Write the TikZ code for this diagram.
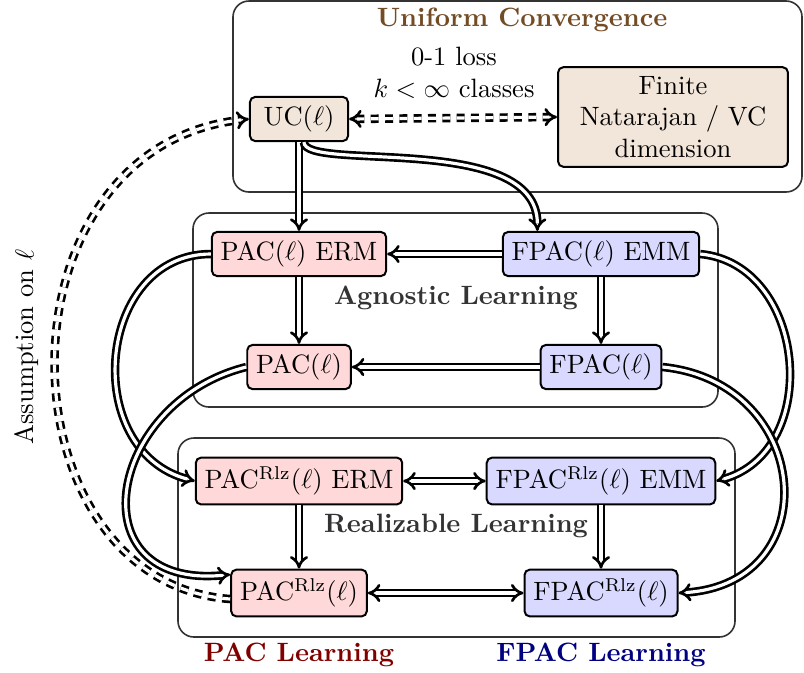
\documentclass[tikz,border=0pt]{standalone}
\usetikzlibrary{arrows.meta}
\begin{document}
\begin{tikzpicture}[x=0.377pt,y=-0.377pt,
  nbox/.style={draw, line width=0.75pt, rounded corners=2pt, inner sep=3.33pt},
  pacn/.style={nbox, fill=red!15},
  fpacn/.style={nbox, fill=blue!15},
  ucn/.style={nbox, fill=brown!20},
  cont/.style={draw=black!80, line width=0.6pt, rounded corners=6pt},
  imp/.style={double, double distance=1.2pt, line width=1pt, -{Implies}},
  impboth/.style={imp, {Implies}-{Implies}},
  dsh/.style={dash pattern=on 3pt off 2.4pt},
  ttl/.style={font=\bfseries, text=black!80},
]
\useasboundingbox (0,0) rectangle (804,672);
\draw[cont] (233,1) rectangle (802,192);
\draw[cont] (193,213) rectangle (718,407);
\draw[cont] (178,438) rectangle (735,637);

\node[font=\bfseries, text=brown!60!black] (uctitle) at (522,20) {Uniform Convergence};
\node[ttl] (agtitle) at (456,298) {Agnostic Learning};
\node[ttl] (rltitle) at (456,526) {Realizable Learning};
\node[font=\bfseries, text=red!50!black] (paclab) at (299,655) {PAC Learning};
\node[font=\bfseries, text=blue!50!black] (fpaclab) at (601,655) {FPAC Learning};
\node[rotate=90] (assume) at (27,347) {Assumption on $\ell$};
\node[align=center] (cond) at (454,73) {0-1 loss\\$k<\infty$ classes};

\node[ucn, minimum width=37pt] (uc) at (299,119) {UC$(\ell)$};
\node[ucn, text width=80pt, align=center] (finite) at (673,117) {Finite\\Natarajan / VC\\dimension};

\node[pacn] (pacerm) at (299,254) {PAC$(\ell)$ ERM};
\node[fpacn] (fpacemm) at (601,254) {FPAC$(\ell)$ EMM};
\node[pacn] (pac) at (299,367) {PAC$(\ell)$};
\node[fpacn] (fpac) at (601,367) {FPAC$(\ell)$};
\node[pacn] (pacrlzerm) at (299,481) {PAC$^{\mathrm{Rlz}}(\ell)$ ERM};
\node[fpacn] (fpacrlzemm) at (601,481) {FPAC$^{\mathrm{Rlz}}(\ell)$ EMM};
\node[pacn] (pacrlz) at (299,593) {PAC$^{\mathrm{Rlz}}(\ell)$};
\node[fpacn] (fpacrlz) at (601,593) {FPAC$^{\mathrm{Rlz}}(\ell)$};

\draw[imp] (uc.south) -- (pacerm.north);
\draw[imp] (uc.-78) .. controls +(0,30) and +(0,-100) .. ([xshift=-24pt]fpacemm.north);
\draw[imp] (fpacemm.west) -- (pacerm.east);
\draw[imp] (pacerm.south) -- (pac.north);
\draw[imp] (fpacemm.south) -- (fpac.north);
\draw[imp] (fpac.west) -- (pac.east);
\draw[impboth] (pacrlzerm.east) -- (fpacrlzemm.west);
\draw[imp] (pacrlzerm.south) -- (pacrlz.north);
\draw[imp] (fpacrlzemm.south) -- (fpacrlz.north);
\draw[impboth] (pacrlz.east) -- (fpacrlz.west);
\draw[imp] (pacerm.west) .. controls +(-115,0) and +(-115,-30) .. (pacrlzerm.west);
\draw[imp] (pac.west) .. controls +(-140,35) and +(-155,15) .. (pacrlz.165);
\draw[imp] (fpacemm.east) .. controls +(107,10) and +(107,-30) .. (fpacrlzemm.east);
\draw[imp] (fpac.east) .. controls +(150,15) and +(150,-10) .. (fpacrlz.east);
\draw[impboth, dsh] (uc.east) -- (finite.west);
\draw[imp, dsh] (pacrlz.185) .. controls +(-231,-17) and +(-260,28) .. (uc.west);
\end{tikzpicture}
\end{document}
